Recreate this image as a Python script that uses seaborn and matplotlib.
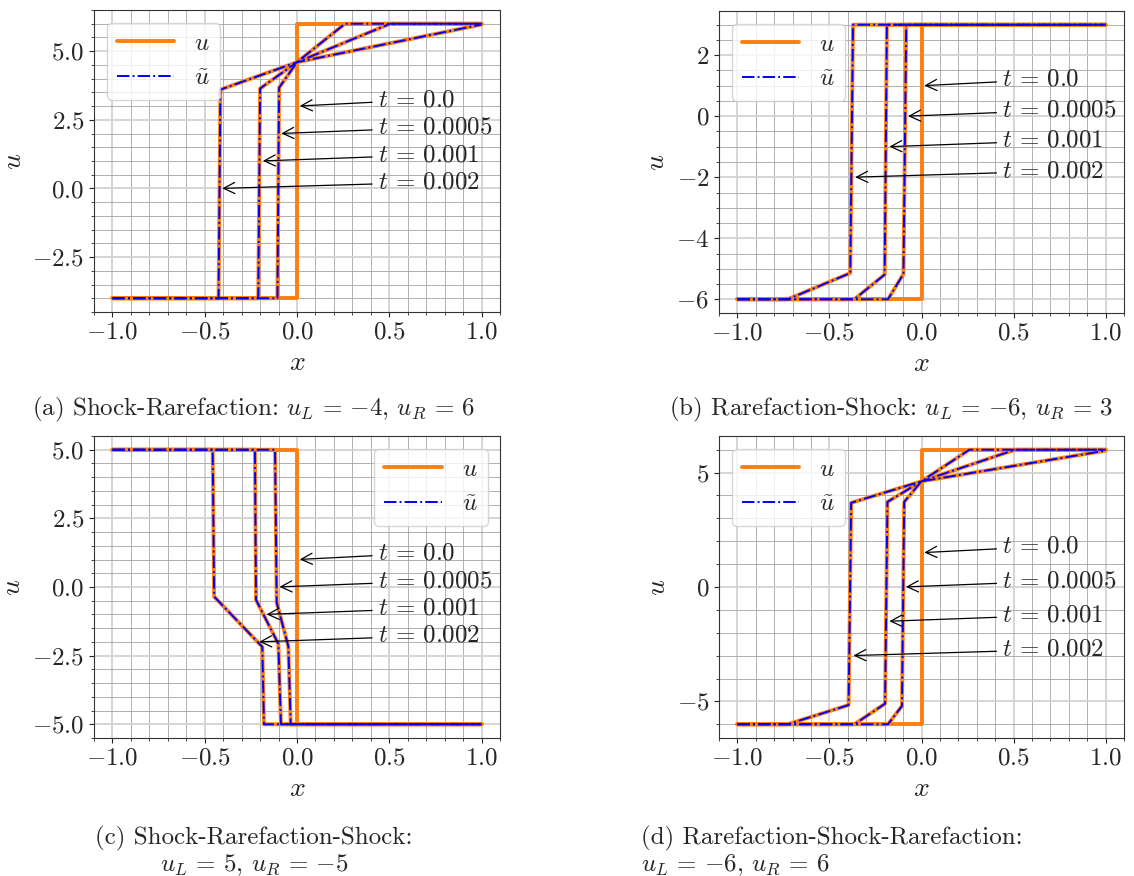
import matplotlib
matplotlib.use("Agg")
import matplotlib.pyplot as plt
import seaborn as sns
from matplotlib.ticker import MultipleLocator

# ---- data (u and u~ coincide at this resolution) ----
times = ["0.0", "0.0005", "0.001", "0.002"]

# (a) shock-rarefaction, uL=-4, uR=6
a_x = [[-1, 0, 0, 1],
       [-1, -0.106, -0.097, 0.0, 0.26, 1],
       [-1, -0.21, -0.2, 0.0, 0.505, 1],
       [-1, -0.425, -0.415, 0.0, 1]]
a_u = [[-4, -4, 6, 6],
       [-4, -4, 3.67, 4.6, 6, 6],
       [-4, -4, 3.64, 4.6, 6, 6],
       [-4, -4, 3.6, 4.6, 5.97]]
a_arrow_x = [0.0, -0.1, -0.2, -0.42]
a_arrow_y = [3, 2, 1, 0]

# (b) rarefaction-shock, uL=-6, uR=3
b_x = [[-1, 0, 0, 1],
       [-1, -0.182, -0.098, -0.083, 1],
       [-1, -0.365, -0.2, -0.188, 1],
       [-1, -0.727, -0.387, -0.372, 1]]
b_u = [[-6, -6, 3, 3],
       [-6, -6, -5.17, 3, 3],
       [-6, -6, -5.19, 3, 3],
       [-6, -6, -5.14, 3, 3]]
b_arrow_x = [0.0, -0.088, -0.19, -0.375]
b_arrow_y = [1, 0, -1, -2]

# (c) shock-rarefaction-shock, uL=5, uR=-5
c_x = [[-1, 0, 0, 1],
       [-1, -0.119, -0.11, -0.047, -0.034, 1],
       [-1, -0.228, -0.222, -0.101, -0.087, 1],
       [-1, -0.457, -0.449, -0.188, -0.179, 1]]
c_u = [[5, 5, -5, -5],
       [5, 5, -0.57, -2.16, -5, -5],
       [5, 5, -0.47, -2.07, -5, -5],
       [5, 5, -0.35, -2.18, -5, -5]]
c_arrow_x = [0.0, -0.11, -0.18, -0.22]
c_arrow_y = [1, 0, -1, -2]

# (d) rarefaction-shock-rarefaction, uL=-6, uR=6
d_x = [[-1, 0, 0, 1],
       [-1, -0.182, -0.106, -0.094, 0.0, 0.26, 1],
       [-1, -0.365, -0.198, -0.185, 0.0, 0.508, 1],
       [-1, -0.727, -0.396, -0.382, 0.0, 1]]
d_u = [[-6, -6, 6, 6],
       [-6, -6, -5.2, 3.72, 4.62, 6, 6],
       [-6, -6, -5.1, 3.72, 4.62, 6, 6],
       [-6, -6, -5.16, 3.68, 4.62, 5.96]]
d_arrow_x = [0.0, -0.1, -0.19, -0.385]
d_arrow_y = [1.5, 0, -1.5, -3]

captions = [r"(a) Shock-Rarefaction: $u_L\,=\,{-4}$, $u_R\,=\,6$",
            r"(b) Rarefaction-Shock: $u_L\,=\,{-6}$, $u_R\,=\,3$",
            "(c) Shock-Rarefaction-Shock:\n" r"$u_L\,=\,5$, $u_R\,=\,{-5}$",
            "(d) Rarefaction-Shock-Rarefaction:\n" r"$u_L\,=\,{-6}$, $u_R\,=\,6$"]

sns.set_style("ticks")
plt.rcParams.update({
    "font.family": "serif",
    "font.serif": ["cmr10"],
    "mathtext.fontset": "cm",
    "axes.formatter.use_mathtext": True,
    "axes.unicode_minus": True,
    "axes.edgecolor": "0.2",
    "xtick.direction": "out",
    "ytick.direction": "out",
})

W, H = 1134, 876
fig = plt.figure(figsize=(W / 100, H / 100), dpi=100)


def box(l, t, r, b):
    return [l / W, 1 - b / H, (r - l) / W, (b - t) / H]


panels = [
    (box(94, 10, 500, 312), a_x, a_u, a_arrow_x, a_arrow_y, 2.5, 0.5, "upper left"),
    (box(719, 11, 1124, 313), b_x, b_u, b_arrow_x, b_arrow_y, 2, 0.5, "upper left"),
    (box(94, 436, 500, 738), c_x, c_u, c_arrow_x, c_arrow_y, 2.5, 0.5, "upper right"),
    (box(719, 436, 1124, 738), d_x, d_u, d_arrow_x, d_arrow_y, 5, 1, "upper left"),
]

for rect, xs, us, ax_x, ax_y, ymaj, ymin, legloc in panels:
    ax = fig.add_axes(rect)
    # exact solution
    for i, (x, u) in enumerate(zip(xs, us)):
        sns.lineplot(x=x, y=u, ax=ax, sort=False, estimator=None,
                     color="#ff7f0e", lw=2.8, label="$u$" if i == 0 else None)
    # approximation (not shown at t=0)
    for i, (x, u) in enumerate(zip(xs[1:], us[1:])):
        sns.lineplot(x=x, y=u, ax=ax, sort=False, estimator=None,
                     color="blue", lw=1.4, linestyle="-.",
                     label=r"$\tilde{u}$" if i == 0 else None)

    for t, px, py in zip(times, ax_x, ax_y):
        ax.annotate(rf"$t\,=\,{t}$", xy=(px, py), xytext=(0.44, py),
                    fontsize=18, va="baseline", ha="left",
                    arrowprops=dict(arrowstyle="->", color="black", lw=0.9,
                                    mutation_scale=20))

    ax.xaxis.set_major_locator(MultipleLocator(0.5))
    ax.xaxis.set_minor_locator(MultipleLocator(0.1))
    ax.yaxis.set_major_locator(MultipleLocator(ymaj))
    ax.yaxis.set_minor_locator(MultipleLocator(ymin))
    ax.grid(which="major", color="#d2d2d2", lw=1.3)
    ax.grid(which="minor", color="#a3a3a3", lw=0.6)
    ax.set_axisbelow(True)
    ax.tick_params(labelsize=18)
    ax.set_xlabel("$x$", fontsize=20)
    ax.set_ylabel("$u$", fontsize=20)
    ax.legend(loc=legloc, fontsize=18, handlelength=2.3, frameon=True,
              framealpha=0.8, edgecolor="0.8")

fig.text(253 / W, 1 - 409 / H, captions[0], ha="center", va="center", fontsize=18)
fig.text(891 / W, 1 - 409 / H, captions[1], ha="center", va="center", fontsize=18)
fig.text(254 / W, 1 - 852 / H, captions[2], ha="center", va="center",
         multialignment="center", fontsize=18, linespacing=1.1)
fig.text(641 / W, 1 - 852 / H, captions[3], ha="left", va="center",
         multialignment="left", fontsize=18, linespacing=1.1)

fig.savefig("out.png", dpi=100)
